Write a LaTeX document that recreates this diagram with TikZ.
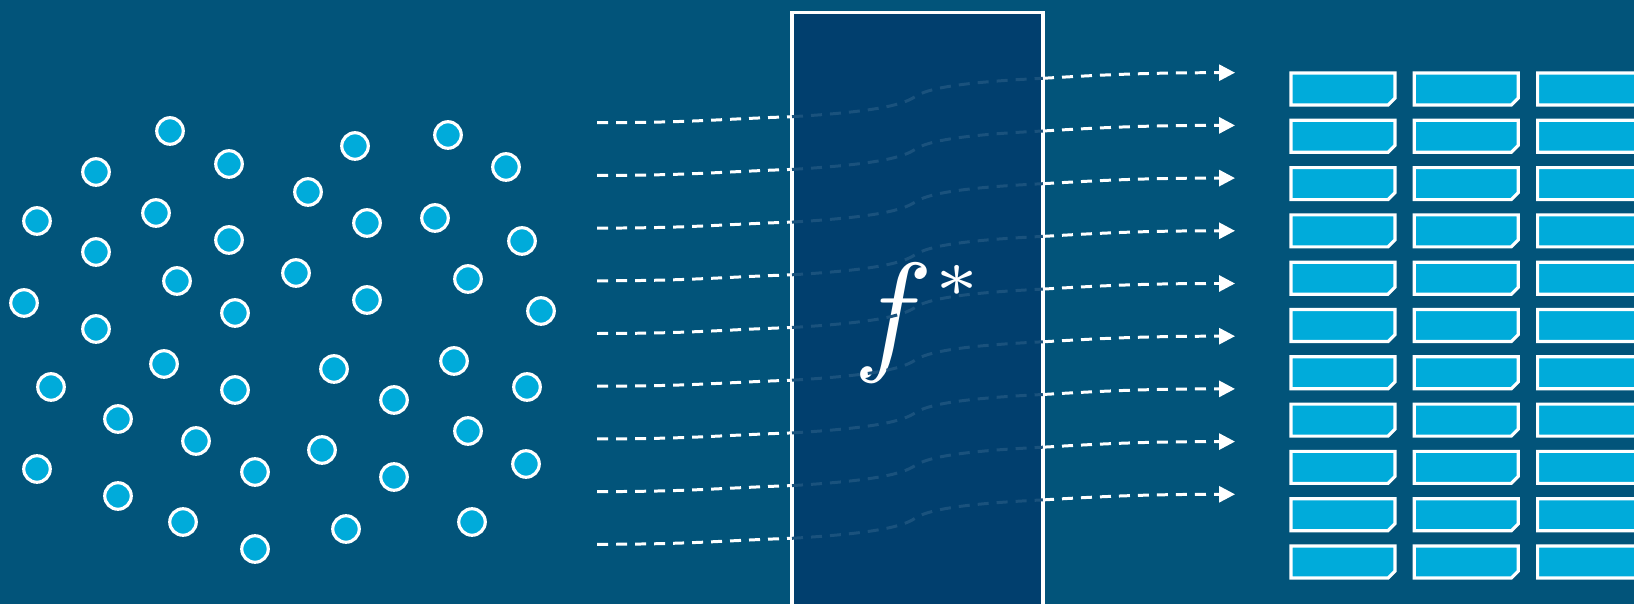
\documentclass[tikz,border=0pt]{standalone}
\usetikzlibrary{arrows.meta}
\definecolor{bgcolor}{HTML}{02547A}
\definecolor{mapcolor}{HTML}{013F6E}
\definecolor{itemcolor}{HTML}{00ABDA}
\colorlet{ghostcolor}{mapcolor!90!white}
\newcommand{\chipblock}[2]{%
    \filldraw[fill=itemcolor, draw=white, line width=0.9pt] (#1,#2) -- ++(104,0) -- ++(0,25) -- ++(-7,7) -- ++(-97,0) -- cycle;
}

\begin{document}
\begin{tikzpicture}[x=0.01cm, y=-0.01cm,
        sample/.style={circle, fill=itemcolor, draw=white, line width=0.9pt, minimum size=0.265cm, inner sep=0pt},
        indash/.style={draw=white, line width=0.85pt, dash pattern=on 0.11cm off 0.08cm},
        ghost/.style={draw=ghostcolor, line width=0.85pt, dash pattern=on 0.11cm off 0.08cm},
        outdash/.style={indash, -{Triangle[length=0.16cm, width=0.16cm]}},
        mapbox/.style={draw=white, fill=mapcolor, line width=1pt, minimum width=2.51cm, minimum height=6.4cm, inner sep=0pt}]
    \useasboundingbox (0,0) rectangle (1634,604);
    \clip (0,0) rectangle (1634,604);
    \fill[bgcolor] (0,0) rectangle (1634,604);
    % --- Input samples (left): scattered points ---
    \foreach \px/\py [count=\k] in {170/131, 96/172, 229/164, 355/146, 448/135, 506/167, 308/192,
            37/221, 156/213, 367/223, 435/218, 229/240, 522/241, 96/252, 177/281, 296/273, 468/279,
            24/303, 235/313, 367/300, 541/311, 96/329, 164/364, 334/369, 454/361, 51/387, 235/390,
            394/400, 527/387, 118/419, 196/441, 322/450, 468/431, 37/469, 255/472, 394/477, 526/464,
            118/496, 183/522, 346/529, 472/522, 255/549} {
            \node[sample] (s\k) at (\px,\py) {};
        }
    % --- The map f* (middle) ---
    \node[mapbox] (map) at (917.5,332.5) {};
    \node[text=white, scale=3.8, anchor=base] (fstar) at (921,357) {$f^{\raise0.2ex\hbox{$\scriptscriptstyle *$}}$};
    \foreach \i in {0,...,8} {
            \pgfmathsetmacro{\yin}{122.7+52.7*\i}
            \coordinate (src\i) at (597,\yin);
            \coordinate (in\i) at (792,\yin-6);
            \coordinate (bend\i) at (915,\yin-26);
            \coordinate (out\i) at (1043,\yin-44.4);
            \coordinate (tip\i) at (1235,\yin-50);
            \draw[indash] (src\i) .. controls +(95,0) and +(-75,2.5) .. (in\i);
            \draw[ghost] (in\i) .. controls +(85,-5) and +(-12,8) .. (bend\i) .. controls +(12,-8) and +(-85,4) .. (out\i);
            \draw[outdash] (out\i) .. controls +(60,-3.5) and +(-90,0) .. (tip\i);
        }
    % --- Output records (right): block columns ---
    \foreach \c in {0,1,2} {
            \foreach \r in {0,...,10} {
                    \pgfmathsetmacro{\bx}{1291+123.3*\c}
                    \pgfmathsetmacro{\by}{73+47.3*\r}
                    \chipblock{\bx}{\by}
                }
        }
\end{tikzpicture}
\end{document}
